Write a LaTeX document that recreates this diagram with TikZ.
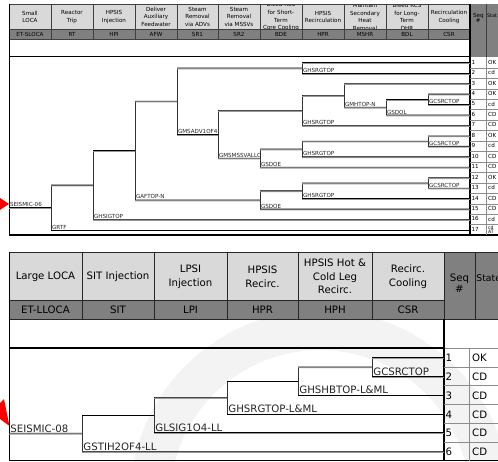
\documentclass[tikz,border=0pt]{standalone}
\usepackage{fontspec}
\setmainfont{DejaVu Sans}
\definecolor{hdl}{HTML}{D9D9D9}
\definecolor{hdk}{HTML}{808080}
\definecolor{wmark}{HTML}{F3F3F3}
\newcommand\evsplit[4]{%
  \coordinate (#1) at (#2,{(#3+#4)/2});
  \coordinate (#1u) at (#2,#3);
  \coordinate (#1l) at (#2,#4);
  \draw[vr] (#1u) -- (#1l);}
\begin{document}
\begin{tikzpicture}[x=1pt,y=-1pt,
  vr/.style={draw=black!80, line width=0.75pt},
  br/.style={draw=black, line width=0.6pt, preaction={draw=black!40, line width=1.2pt, transform canvas={yshift=-0.8pt}}},
  tlA/.style={anchor=south west, inner xsep=0.8pt, inner ysep=0.6pt, font=\fontsize{5.6}{6}\selectfont, text=black!85},
  tlB/.style={anchor=south west, inner xsep=1.2pt, inner ysep=0.8pt, font=\fontsize{10.2}{11}\selectfont, text=black!85},
  hA/.style={align=center, inner sep=0pt, font=\fontsize{5.6}{7.6}\selectfont},
  hB/.style={align=center, inner sep=0pt, font=\fontsize{10.2}{13.6}\selectfont},
  sA/.style={anchor=west, inner sep=0pt, font=\fontsize{5.6}{6}\selectfont},
  sB/.style={anchor=west, inner sep=0pt, font=\fontsize{10.2}{11}\selectfont},
  cellA/.style={draw=black!75, line width=0.6pt},
  cellB/.style={draw=black!85, line width=0.8pt},
  grid/.style={draw=black!45, line width=0.5pt}]
\useasboundingbox (0,0) rectangle (498,462);
\clip (0,0) rectangle (498,462);
\fill[white] (0,0) rectangle (498,462);
% faint watermark ring (bottom panel)
\fill[wmark, even odd rule] (320,500) circle[radius=190] (320,500) circle[radius=150];
\fill[white] (0,236) rectangle (498,251.5);

% ================= TOP PANEL =================
\fill[hdl] (9,4) rectangle (470,29);
\foreach \a/\b/\t/\c [count=\i] in {
  9/51/{Small\\LOCA}/ET-SLOCA,
  51/93/{Reactor\\Trip}/RT,
  93/135/{HPSIS\\Injection}/HPI,
  135/177/{Deliver\\Auxiliary\\Feedwater}/AFW,
  177/218/{Steam\\Removal\\via ADVs}/SR1,
  218/260/{Steam\\Removal\\via MSSVs}/SR2,
  260/302/{Bleed RCS\\for Short-\\Term\\Core Cooling}/BDE,
  302/344/{HPSIS\\Recirculation}/HPR,
  344/386/{Maintain\\Secondary\\Heat\\Removal}/MSHR,
  386/428/{Bleed RCS\\for Long-\\Term\\DHR}/BDL,
  428/470/{Recirculation\\Cooling}/CSR}
  {\node[hA] (ha\i) at ({(\a+\b)/2},16.8) {\t};}
\fill[white] (0,0) rectangle (498,3.6);
\fill[hdk] (9,29) rectangle (470,39);
\foreach \a/\b/\t/\c [count=\i] in {
  9/51/x/ET-SLOCA, 51/93/x/RT, 93/135/x/HPI, 135/177/x/AFW, 177/218/x/SR1,
  218/260/x/SR2, 260/302/x/BDE, 302/344/x/HPR, 344/386/x/MSHR, 386/428/x/BDL, 428/470/x/CSR}
  {\node[hA] (ca\i) at ({(\a+\b)/2},34.2) {\c};
   \draw[cellA] (\b,4) -- (\b,39);}
\draw[cellA] (9,4) -- (498,4);
\draw[cellA] (9,29) -- (470,29);
\draw[cellA] (9,39) -- (470,39);
% seq / status header
\fill[hdk] (470,4) rectangle (498,57);
\node[hA] (seqA) at (478.3,18) {Seq\\[-1.8pt]\#};
\node[anchor=north west, inner sep=0pt, font=\fontsize{4.9}{5.4}\selectfont] (stA) at (486.9,13.5) {Stat\\[-0.3pt]\ e};
\draw[cellA] (486.7,4) -- (486.7,57);
% body frame
\draw[black, line width=1.3pt] (9,56.5) -- (470,56.5);
\draw[black, line width=1pt] (9,4) -- (9,235.5);
\draw[black, line width=1.3pt] (9,235) -- (498,235);
\draw[black, line width=1.6pt] (470,4) -- (470,235.5);
\draw[grid] (486.7,57) -- (486.7,235);
\foreach \k in {1,...,16} {\draw[grid] (470,{57.5+\k*10.45}) -- (498,{57.5+\k*10.45});}
% row ends
\foreach \s [count=\i] in {OK,cd,OK,OK,cd,CD,CD,OK,cd,CD,CD,OK,cd,CD,CD,cd} {
  \coordinate (t\i) at (470,{62.7+(\i-1)*10.45});
  \node[sA] (na\i) at (471.3,{62.2+(\i-1)*10.45}) {\i};
  \node[sA] (sa\i) at (488,{62.2+(\i-1)*10.45}) {\s};}
\coordinate (t17) at (470,229.9);
\node[sA] (na17) at (471.3,229.4) {17};
\node[anchor=west, align=left, inner sep=0pt, font=\fontsize{4.6}{4.4}\selectfont] (sa17) at (488,229.6) {cd\\AT};

% red marker
\fill[red] (0,198) -- (9,204) -- (0,210) -- cycle;

% tree splits
\evsplit{A}{51}{184.96}{229.9}
\evsplit{B}{93}{150.46}{219.45}
\evsplit{C}{135}{101.07}{199.86}
\evsplit{D}{177}{67.93}{134.22}
\evsplit{E}{302}{62.7}{73.15}
\evsplit{F}{218}{110.38}{158.06}
\evsplit{G}{302}{95.36}{125.4}
\evsplit{H}{344}{83.6}{107.11}
\evsplit{I}{386}{99.275}{114.95}
\evsplit{J}{428}{94.05}{104.5}
\evsplit{K}{260}{148.91}{167.2}
\evsplit{L}{302}{141.08}{156.75}
\evsplit{M}{428}{135.85}{146.3}
\evsplit{N}{260}{190.71}{209.0}
\evsplit{O}{302}{182.88}{198.55}
\evsplit{P}{428}{177.65}{188.1}
\coordinate (S6) at (9,207.43);
% branches
\draw[br] (S6) -- (A);
\draw[br] (Au) -- (B);   \draw[br] (Al) -- (t17);
\draw[br] (Bu) -- (C);   \draw[br] (Bl) -- (t16);
\draw[br] (Cu) -- (D);   \draw[br] (Cl) -- (N);
\draw[br] (Du) -- (E);   \draw[br] (Dl) -- (F);
\draw[br] (Eu) -- (t1);  \draw[br] (El) -- (t2);
\draw[br] (Fu) -- (G);   \draw[br] (Fl) -- (K);
\draw[br] (Gu) -- (H);   \draw[br] (Gl) -- (t7);
\draw[br] (Hu) -- (t3);  \draw[br] (Hl) -- (I);
\draw[br] (Iu) -- (J);   \draw[br] (Il) -- (t6);
\draw[br] (Ju) -- (t4);  \draw[br] (Jl) -- (t5);
\draw[br] (Ku) -- (L);   \draw[br] (Kl) -- (t11);
\draw[br] (Lu) -- (M);   \draw[br] (Ll) -- (t10);
\draw[br] (Mu) -- (t8);  \draw[br] (Ml) -- (t9);
\draw[br] (Nu) -- (O);   \draw[br] (Nl) -- (t15);
\draw[br] (Ou) -- (P);   \draw[br] (Ol) -- (t14);
\draw[br] (Pu) -- (t12); \draw[br] (Pl) -- (t13);
% labels
\node[tlA] (lS6) at (S6) {SEISMIC-06};
\node[tlA] (lA) at (Al) {GRTF};
\node[tlA] (lB) at (Bl) {GHSIGTOP};
\node[tlA] (lC) at (Cl) {GAFTOP-N};
\node[tlA] (lD) at (Dl) {GMSADV1OF4};
\node[tlA] (lE) at (El) {GHSRGTOP};
\node[tlA] (lF) at (Fl) {GMSMSSVALLO};
\node[tlA] (lG) at (Gl) {GHSRGTOP};
\node[tlA] (lH) at (Hl) {GMHTOP-N};
\node[tlA] (lI) at (Il) {GSDOL};
\node[tlA] (lJ) at (Jl) {GCSRCTOP};
\node[tlA] (lK) at (Kl) {GSDOE};
\node[tlA] (lL) at (Ll) {GHSRGTOP};
\node[tlA] (lM) at (Ml) {GCSRCTOP};
\node[tlA] (lN) at (Nl) {GSDOE};
\node[tlA] (lO) at (Ol) {GHSRGTOP};
\node[tlA] (lP) at (Pl) {GCSRCTOP};

% ================= BOTTOM PANEL =================
\fill[hdl] (9,252) rectangle (444,300);
\fill[hdk] (9,300) rectangle (444,319);
\fill[hdk] (444,252) rectangle (498,319);
\foreach \a/\b/\t/\c [count=\i] in {
  9/82/{Large LOCA}/ET-LLOCA,
  82/154/{SIT Injection}/SIT,
  154/227/{LPSI\\Injection}/LPI,
  227/298/{HPSIS\\Recirc.}/HPR,
  298/372/{HPSIS Hot \&\\Cold Leg\\Recirc.}/HPH,
  372/444/{Recirc.\\Cooling}/CSR}
  {\node[hB] (hb\i) at ({(\a+\b)/2},276.5) {\t};
   \node[hB] (cb\i) at ({(\a+\b)/2},309.8) {\c};
   \draw[cellB] (\b,252) -- (\b,319);}
\node[hB] (seqB) at (459.5,283) {Seq\\[-3pt]\#};
\node[anchor=north west, inner sep=0pt, font=\fontsize{9.3}{10.2}\selectfont] (stB) at (476.2,274.5) {Stat\\e};
\draw[cellB] (475,252) -- (475,319);
\draw[cellB] (9,252) -- (498,252);
\draw[cellB] (9,300) -- (444,300);
\draw[cellB] (9,319) -- (498,319);
\draw[black, line width=1.3pt] (9,348) -- (444,348);
\draw[grid] (444,348) -- (498,348);
\draw[black, line width=1pt] (9,252) -- (9,461);
\draw[black, line width=1.3pt] (9,460.8) -- (498,460.8);
\draw[black, line width=1.6pt] (444,319) -- (444,461);
\draw[grid] (469,348) -- (469,461);
\foreach \k in {1,...,5} {\draw[grid] (444,{348+\k*18.8}) -- (498,{348+\k*18.8});}
\foreach \s [count=\i] in {OK,CD,CD,CD,CD,CD} {
  \coordinate (u\i) at (444,{357.4+(\i-1)*18.8});
  \node[sB] (nb\i) at (445.5,{357.9+(\i-1)*18.8}) {\i};
  \node[sB] (sb\i) at (472,{357.9+(\i-1)*18.8}) {\s};}

% red marker
\fill[red] (0,403) -- (4,399) -- (9.5,426) -- (0,419) -- cycle;

\evsplit{Q}{82}{414.975}{451.4}
\evsplit{R}{154}{397.35}{432.6}
\evsplit{S}{227}{380.9}{413.8}
\evsplit{T}{298}{366.8}{395.0}
\evsplit{U}{372}{357.4}{376.2}
\coordinate (S8) at (9,433.19);
\draw[br] (S8) -- (Q);
\draw[br] (Qu) -- (R);  \draw[br] (Ql) -- (u6);
\draw[br] (Ru) -- (S);  \draw[br] (Rl) -- (u5);
\draw[br] (Su) -- (T);  \draw[br] (Sl) -- (u4);
\draw[br] (Tu) -- (U);  \draw[br] (Tl) -- (u3);
\draw[br] (Uu) -- (u1); \draw[br] (Ul) -- (u2);
\node[tlB] (lS8) at (S8) {SEISMIC-08};
\node[tlB] (lQ) at (Ql) {GSTIH2OF4-LL};
\node[tlB] (lR) at (Rl) {GLSIG1O4-LL};
\node[tlB] (lS) at (Sl) {GHSRGTOP-L\&ML};
\node[tlB] (lT) at (Tl) {GHSHBTOP-L\&ML};
\node[tlB] (lU) at (Ul) {GCSRCTOP};
\end{tikzpicture}
\end{document}
